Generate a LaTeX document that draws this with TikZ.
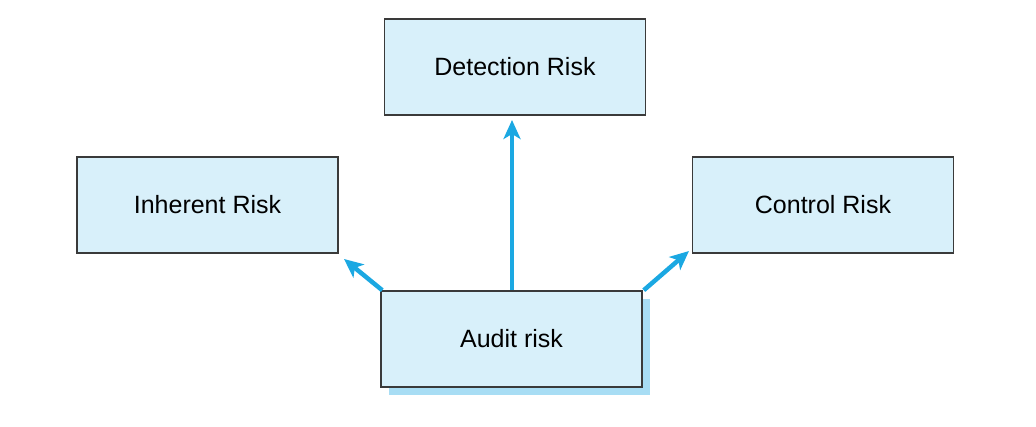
\documentclass[tikz,border=0pt]{standalone}
\usepackage{fontspec}
\setmainfont{Liberation Sans}
\usetikzlibrary{arrows.meta}
\definecolor{boxfill}{HTML}{D8F0FA}
\definecolor{boxline}{HTML}{3A3A3A}
\definecolor{arrowc}{HTML}{1BA8E2}
\definecolor{shadowc}{HTML}{A8DDF4}
\begin{document}
\begin{tikzpicture}[x=1pt,y=-1pt,
  riskbox/.style={draw=boxline,line width=1.5pt,fill=boxfill,minimum width=261pt,minimum height=96pt,inner sep=0pt,font=\fontsize{25}{30}\selectfont},
  conn/.style={draw=arrowc,line width=4.5pt,-{Stealth[length=19pt,width=17pt,inset=5pt]}}]
\useasboundingbox (0,0) rectangle (1036,427);
\fill[shadowc] (389,299) rectangle (650,395);
\node[riskbox] (audit) at (511.5,339) {Audit risk};
\node[riskbox] (detect) at (515,67) {Detection Risk};
\node[riskbox] (inh) at (207.5,205) {Inherent Risk};
\node[riskbox] (ctrl) at (823,205) {Control Risk};
\coordinate (dtip) at (512,120);
\coordinate (itip) at (344,259);
\coordinate (ctip) at (689,251);
\draw[conn] (audit.north -| dtip) -- (dtip);
\draw[conn] (audit.north west) ++(2,0) -- (itip);
\draw[conn] (audit.north east) ++(1,0) -- (ctip);
\end{tikzpicture}
\end{document}
